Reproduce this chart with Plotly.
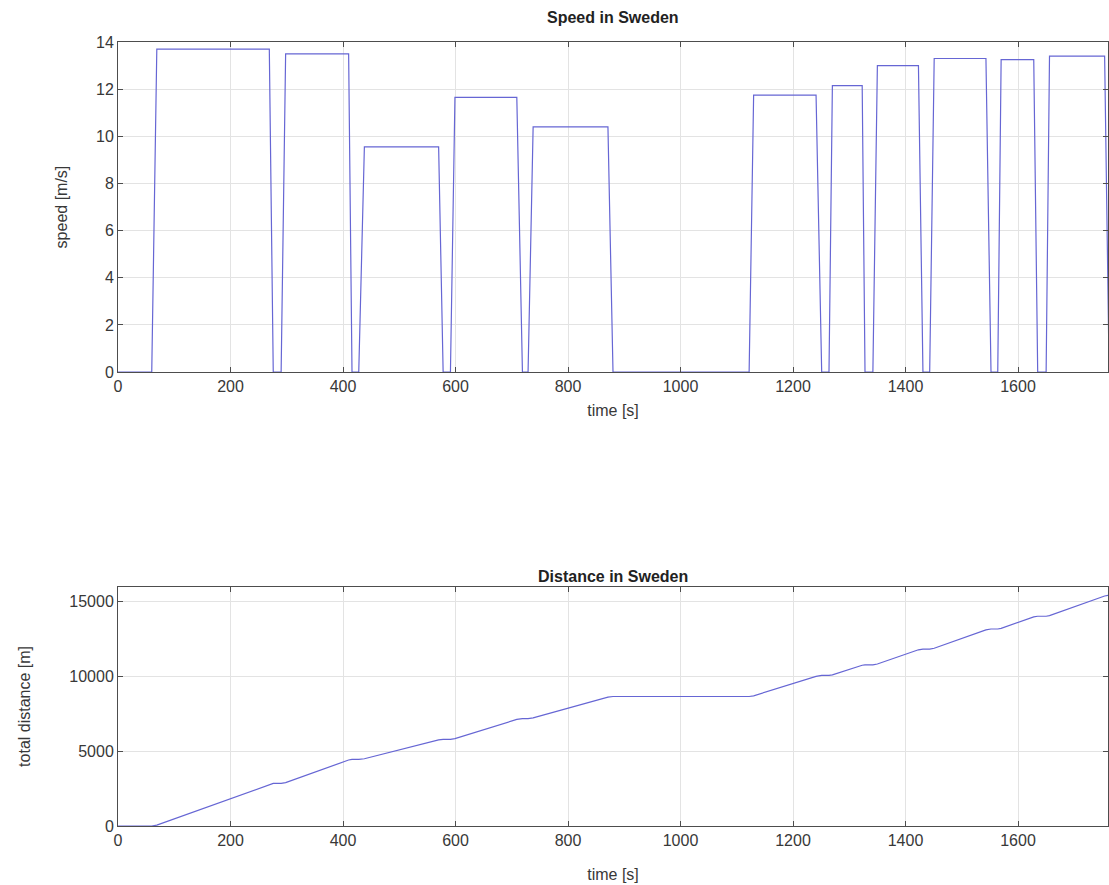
import plotly.graph_objects as go
from plotly.subplots import make_subplots

# Breakpoint times [s]
time_s = [0, 60, 69, 269, 276, 290, 298, 410, 416, 428, 438, 570, 578, 591, 599,
          709, 719, 729, 738, 871, 880, 1122, 1130, 1241, 1251, 1264, 1270, 1323,
          1328, 1342, 1350, 1423, 1431, 1443, 1451, 1543, 1552, 1564, 1570, 1628,
          1635, 1650, 1656, 1754, 1762]

# Speed [m/s] at those times
speed_ms = [0, 0, 13.7, 13.7, 0, 0, 13.5, 13.5, 0, 0, 9.55, 9.55, 0, 0, 11.65,
            11.65, 0, 0, 10.4, 10.4, 0, 0, 11.75, 11.75, 0, 0, 12.15, 12.15,
            0, 0, 13.0, 13.0, 0, 0, 13.3, 13.3, 0, 0, 13.25, 13.25,
            0, 0, 13.4, 13.4, 0]

# Total distance [m] at those times
distance_m = [0, 0, 60, 2800, 2850, 2850, 2905, 4415, 4455, 4455, 4500, 5765, 5800, 5800, 5845,
              7130, 7190, 7190, 7235, 8620, 8665, 8665, 8710, 10015, 10075, 10075, 10110, 10755,
              10785, 10785, 10840, 11790, 11840, 11840, 11895, 13120, 13180, 13180, 13220, 13990,
              14035, 14035, 14075, 15390, 15445]

x_ticks = [0, 200, 400, 600, 800, 1000, 1200, 1400, 1600]
speed_ticks = [0, 2, 4, 6, 8, 10, 12, 14]
dist_ticks = [0, 5000, 10000, 15000]
dist_labels = ["0", "5000", "10000", "15000"]

LINE = "#6666d4"
AX = "#4d4d4d"
GRID = "#e3e3e3"
TXT = "#383838"
FONT = "Liberation Sans, Arial, sans-serif"

fig = make_subplots(rows=2, cols=1, vertical_spacing=0.1)

fig.add_trace(go.Scatter(x=time_s, y=speed_ms, mode="lines",
                         line=dict(color=LINE, width=1.2), showlegend=False), row=1, col=1)
fig.add_trace(go.Scatter(x=time_s, y=distance_m, mode="lines",
                         line=dict(color=LINE, width=1.2), showlegend=False), row=2, col=1)

common_x = dict(range=[0, 1760], tickvals=x_ticks, showgrid=True, gridcolor=GRID,
                showline=True, linecolor=AX, linewidth=1, mirror="ticks",
                ticks="inside", ticklen=5, tickcolor=AX, zeroline=False,
                tickfont=dict(size=16, color=TXT, family=FONT))
common_y = dict(showgrid=True, gridcolor=GRID, showline=True, linecolor=AX, linewidth=1,
                mirror="ticks", ticks="inside", ticklen=5, tickcolor=AX, zeroline=False,
                tickfont=dict(size=16, color=TXT, family=FONT))

fig.update_xaxes(**common_x, domain=[0, 1])
fig.update_yaxes(**common_y)
fig.update_layout(
    xaxis=dict(title=dict(text="time [s]", font=dict(size=16, color=TXT, family=FONT), standoff=10)),
    xaxis2=dict(title=dict(text="time [s]", font=dict(size=16, color=TXT, family=FONT), standoff=20)),
    yaxis=dict(range=[0, 14], tickvals=speed_ticks, domain=[0.579, 1.0],
               title=dict(text="speed [m/s]", font=dict(size=16, color=TXT, family=FONT), standoff=24)),
    yaxis2=dict(range=[0, 16000], tickvals=dist_ticks, ticktext=dist_labels, domain=[0.0, 0.305],
                title=dict(text="total distance [m]", font=dict(size=16, color=TXT, family=FONT), standoff=34)),
)

fig.add_annotation(text="<b>Speed in Sweden</b>", x=0.5, y=1.0, xref="paper", yref="paper",
                   xanchor="center", yanchor="bottom", yshift=14, showarrow=False,
                   font=dict(size=16, color="#222", family=FONT))
fig.add_annotation(text="<b>Distance in Sweden</b>", x=0.5, y=0.305, xref="paper", yref="paper",
                   xanchor="center", yanchor="bottom", yshift=0, showarrow=False,
                   font=dict(size=16, color="#222", family=FONT))

fig.update_layout(width=1109, height=885, plot_bgcolor="white", paper_bgcolor="white",
                  margin=dict(l=118, r=1, t=42, b=59), font=dict(family=FONT))

fig.write_html("out.html", config={"displayModeBar": False},
               post_script="document.body.style.margin='0';")
